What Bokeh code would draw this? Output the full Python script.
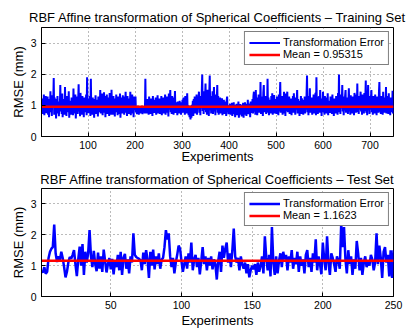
from bokeh.plotting import figure
from bokeh.layouts import column
from bokeh.models import Range1d, FixedTicker, Legend, LegendItem
from bokeh.embed import file_html
from bokeh.resources import INLINE

train_title = "RBF Affine transformation of Spherical Coefficients – Training Set"
test_title = "RBF Affine transformation of Spherical Coefficients – Test Set"
x_label = "Experiments"
y_label = "RMSE (mm)"
series_label = "Transformation Error"
train_mean = 0.95315
test_mean = 1.1623
train_xticks = [100, 200, 300, 400, 500, 600, 700]
test_xticks = [50, 100, 150, 200, 250]
y_ticks = [0, 1, 2, 3]

train_rmse = [
    0.95, 1.22, 0.72, 1.15, 0.80, 1.35, 0.68, 1.05, 0.90, 1.30, 0.75, 1.10, 0.85, 1.28, 0.70, 1.20, 0.62, 1.02, 0.88, 1.45, 0.78, 1.15, 0.66, 1.32, 0.92,
    1.10, 1.88, 0.70, 1.25, 0.82, 1.05, 0.58, 1.20, 0.90, 1.30, 0.74, 1.12, 0.65, 1.05, 0.86, 1.65, 0.80, 1.25, 0.72, 1.38, 0.62, 1.10, 0.95, 1.20, 0.70,
    1.59, 0.84, 1.18, 0.66, 1.30, 0.78, 1.08, 0.92, 1.45, 0.60, 1.15, 0.88, 1.02, 0.70, 1.25, 0.82, 1.10, 0.68, 1.54, 0.90, 1.20, 0.74, 1.35, 0.58, 1.05,
    0.86, 1.28, 0.72, 1.12, 1.68, 0.80, 1.20, 0.65, 1.40, 0.90, 1.08, 0.70, 1.30, 0.84, 1.15, 0.62, 1.25, 0.78, 1.05, 0.92, 1.35, 0.68, 1.90, 0.85, 1.22,
    0.75, 1.10, 0.88, 1.30, 0.66, 1.85, 0.80, 1.15, 0.70, 1.25, 0.92, 1.05, 0.60, 1.20, 0.82, 1.32, 0.72, 1.08, 0.86, 1.18, 0.64, 1.28, 0.78, 1.12, 0.90,
    1.49, 0.74, 1.20, 0.85, 1.38, 0.68, 1.10, 0.90, 1.42, 0.76, 1.30, 0.62, 1.15, 0.88, 1.35, 0.72, 1.05, 0.80, 1.25, 0.66, 1.40, 0.84, 1.12, 0.70, 1.50,
    0.82, 1.18, 0.70, 1.30, 0.88, 1.05, 0.64, 1.22, 0.78, 1.35, 0.90, 1.10, 0.68, 1.28, 0.84, 1.15, 0.72, 1.38, 0.60, 1.08, 0.86, 1.25, 0.74, 1.32, 0.80,
    1.12, 0.70, 1.28, 0.92, 1.44, 0.76, 1.15, 0.66, 1.30, 0.84, 1.05, 0.72, 1.22, 0.88, 1.44, 0.68, 1.18, 0.80, 1.35, 0.74, 1.10, 0.62, 1.28, 0.86, 1.05,
    1.28, 0.78, 0.95, 0.72, 0.98, 0.80, 0.90, 0.70, 0.96, 0.76, 0.88, 0.74, 0.92, 0.82, 0.86, 0.72, 0.95, 0.78, 0.90, 0.80, 0.75, 1.85, 0.82, 1.10, 0.74,
    1.20, 0.80, 1.15, 0.70, 1.28, 0.86, 1.05, 0.72, 1.22, 0.90, 1.10, 0.66, 1.30, 0.82, 1.18, 0.76, 1.08, 0.88, 1.25, 0.70, 1.12, 0.84, 1.32, 0.74, 1.05,
    0.90, 1.22, 0.72, 1.15, 0.84, 1.30, 0.68, 1.10, 0.80, 1.25, 0.74, 1.05, 0.88, 1.35, 0.70, 1.18, 0.82, 1.28, 0.76, 1.12, 0.64, 1.38, 0.86, 1.08, 1.49,
    0.78, 1.20, 0.72, 1.30, 0.85, 1.15, 0.70, 1.25, 0.92, 1.46, 0.76, 1.10, 0.82, 1.08, 0.68, 1.12, 0.86, 1.05, 0.74, 1.15, 0.80, 1.02, 0.70, 1.10, 0.88,
    1.18, 0.76, 1.25, 0.84, 1.12, 0.70, 1.30, 0.90, 1.05, 0.74, 1.39, 0.82, 1.00, 0.68, 0.95, 0.62, 0.88, 0.55, 0.92, 0.60, 1.02, 0.72, 1.15, 0.66, 1.20,
    0.80, 1.28, 0.74, 1.10, 0.86, 1.35, 0.70, 1.22, 0.88, 1.15, 1.44, 0.76, 1.30, 0.68, 1.25, 0.90, 1.40, 1.99, 0.82, 1.30, 0.72, 1.45, 0.85, 1.20, 1.70,
    0.78, 1.35, 0.70, 1.50, 0.88, 1.25, 0.66, 1.40, 1.96, 0.84, 1.30, 0.74, 1.22, 0.90, 1.45, 0.72, 1.15, 1.59, 0.80, 1.28, 0.68, 1.35, 0.86, 1.20, 1.65,
    0.76, 1.30, 0.70, 1.15, 0.88, 1.25, 0.74, 1.10, 0.82, 1.23, 0.68, 1.05, 0.90, 1.18, 0.72, 1.12, 0.80, 1.08, 0.66, 1.15, 1.28, 0.78, 1.00, 0.72, 0.95,
    0.80, 1.05, 0.70, 0.98, 0.76, 1.08, 0.66, 0.95, 0.82, 1.10, 0.72, 1.02, 0.62, 0.92, 0.78, 1.05, 0.68, 0.98, 0.74, 1.12, 0.60, 0.96, 0.80, 1.04, 0.70,
    0.94, 0.64, 1.02, 0.76, 1.08, 0.60, 0.98, 0.82, 1.10, 0.70, 1.00, 0.66, 1.05, 0.78, 1.18, 0.72, 0.96, 0.84, 1.06, 0.62, 1.12, 0.76, 1.00, 0.88, 1.20,
    0.74, 1.30, 1.44, 0.80, 1.15, 0.70, 1.49, 0.86, 1.25, 0.68, 1.10, 0.90, 1.35, 0.76, 1.20, 0.82, 1.75, 0.72, 1.28, 0.88, 1.15, 0.66, 1.40, 1.65, 0.78,
    1.22, 0.84, 1.30, 0.72, 1.12, 0.90, 1.85, 0.76, 1.25, 0.68, 1.18, 0.86, 1.08, 0.74, 1.30, 0.80, 1.39, 0.70, 1.15, 0.88, 1.33, 0.74, 1.05, 0.82, 1.20,
    0.72, 1.28, 0.86, 1.10, 0.68, 1.35, 0.80, 1.22, 1.75, 0.76, 1.15, 0.90, 1.30, 0.70, 1.20, 0.84, 1.44, 0.74, 1.12, 0.66, 1.38, 0.82, 1.25, 1.44, 0.78,
    1.10, 0.88, 1.28, 0.72, 1.15, 0.84, 1.22, 0.68, 1.05, 0.90, 1.30, 0.76, 1.39, 0.80, 1.18, 0.70, 1.25, 0.86, 1.12, 1.49, 0.74, 1.20, 0.82, 1.08, 0.66,
    1.15, 0.84, 1.30, 0.72, 1.23, 0.88, 1.10, 0.70, 1.18, 0.80, 1.28, 0.74, 1.05, 0.86, 1.35, 1.96, 0.78, 1.20, 0.68, 1.30, 0.90, 1.55, 0.76, 1.15, 0.84,
    1.25, 0.70, 1.12, 0.88, 1.35, 0.74, 1.20, 0.82, 1.40, 0.68, 1.90, 0.80, 1.28, 0.72, 1.15, 0.86, 1.30, 0.76, 1.49, 0.90, 1.10, 0.66, 1.22, 0.84, 1.44,
    0.78, 1.18, 0.70, 1.30, 0.86, 1.12, 0.74, 1.25, 0.82, 1.39, 0.68, 1.15, 0.90, 1.05, 0.76, 1.28, 0.80, 1.20, 0.72, 1.35, 0.84, 1.10, 0.66, 1.22, 0.88,
    1.15, 0.74, 1.30, 0.82, 1.20, 0.70, 1.40, 0.86, 1.99, 0.78, 1.25, 0.72, 1.35, 0.90, 1.18, 1.65, 0.80, 1.28, 0.68, 1.12, 0.84, 1.30, 1.49, 0.76, 1.15,
    0.88, 1.25, 0.72, 1.10, 1.55, 0.80, 1.20, 0.70, 1.32, 0.86, 1.15, 0.74, 1.28, 0.82, 1.05, 0.68, 1.40, 0.90, 1.22, 0.76, 1.35, 0.84, 1.70, 0.78, 1.18,
    0.72, 1.30, 0.86, 1.12, 1.44, 0.80, 1.25, 0.70, 1.35, 0.88, 1.15, 0.74, 1.40, 0.82, 1.20, 1.80, 0.76, 1.28, 0.68, 1.10, 1.65, 0.84, 1.30, 0.72, 1.18,
    0.86, 1.25, 1.49, 0.78, 1.15, 0.70, 1.30, 0.88, 1.20, 0.74, 1.35, 0.82, 1.10, 0.68, 1.28, 0.90, 1.22, 0.76, 1.40, 1.75, 0.80, 1.18, 0.72, 1.30, 0.84,
    1.12, 0.70, 1.44, 0.86, 1.25, 0.76, 1.20, 0.82, 1.59, 0.74, 1.15, 0.88, 1.30, 0.72, 1.39, 0.80, 1.18, 0.68, 1.25, 0.86, 1.10, 0.78, 1.47, 0.74, 0.82,
]

test_rmse = [
    0.82, 0.78, 0.95, 0.74, 0.80, 1.25, 1.45, 1.55, 1.60, 2.33,
    1.40, 1.12, 1.30, 1.18, 1.45, 1.25, 0.95, 0.62, 0.80, 1.10,
    1.28, 1.22, 1.35, 1.50, 1.05, 0.66, 1.20, 1.62, 1.00, 1.70,
    0.70, 1.45, 1.10, 1.40, 2.15, 1.30, 0.95, 1.48, 1.05, 0.82,
    1.42, 0.90, 1.30, 0.80, 1.52, 1.15, 0.78, 1.05, 1.25, 0.88,
    1.22, 0.72, 1.15, 0.95, 1.35, 0.85, 1.45, 0.70, 1.25, 1.38,
    0.90, 1.20, 0.75, 1.30, 1.10, 2.05, 1.35, 1.28, 1.25, 1.22,
    1.18, 0.85, 1.42, 1.05, 1.50, 1.20, 0.60, 1.45, 1.00, 1.52,
    0.88, 1.30, 1.05, 1.40, 0.90, 1.20, 1.25, 1.60, 2.15, 1.85,
    2.05, 1.30, 0.95, 1.25, 0.75, 1.10, 1.35, 1.65, 1.55, 1.15,
    0.80, 1.05, 1.30, 0.90, 1.40, 1.10, 1.75, 0.85, 1.20, 1.35,
    0.95, 1.25, 0.72, 1.15, 1.60, 1.05, 1.30, 0.85, 1.25, 1.00,
    1.30, 0.88, 1.20, 1.05, 0.55, 1.15, 1.45, 0.80, 1.65, 1.25,
    1.55, 1.75, 1.10, 1.40, 0.95, 1.50, 2.20, 1.30, 1.10, 1.25,
    0.85, 1.30, 1.05, 0.90, 1.10, 0.75, 1.05, 0.62, 0.85, 1.00,
    0.88, 1.05, 0.70, 1.10, 0.80, 1.00, 1.30, 0.75, 1.95, 1.25,
    0.85, 1.35, 0.65, 2.25, 1.10, 0.70, 1.30, 0.75, 1.15, 1.40,
    0.95, 1.45, 1.20, 1.35, 0.85, 1.30, 1.10, 1.50, 0.90, 1.25,
    1.05, 1.45, 0.80, 1.30, 1.00, 1.20, 0.75, 1.35, 1.50, 0.95,
    1.25, 0.80, 1.40, 1.10, 1.85, 0.85, 1.30, 1.05, 0.72, 1.75,
    1.20, 0.85, 1.95, 1.10, 0.70, 1.40, 1.25, 1.05, 0.80, 1.30,
    1.15, 0.90, 2.35, 1.60, 2.25, 1.20, 0.75, 1.50, 1.05, 1.30,
    0.70, 1.20, 0.90, 1.80, 1.40, 0.85, 1.25, 0.70, 1.10, 1.30,
    0.95, 1.15, 1.00, 1.35, 1.20, 0.85, 1.10, 2.05, 1.05, 1.65,
    1.25, 0.60, 1.45, 1.60, 1.10, 1.35, 0.65, 1.50, 0.60, 1.50,
]

FONT = "Liberation Sans"


def make_panel(rmse, mean, title, xticks, height, border_top, border_bottom,
               line_w, tick_standoff, label_standoff, title_standoff):
    n = len(rmse)
    xs = list(range(1, n + 1))
    p = figure(width=408, height=height, output_backend="svg", toolbar_location=None,
               x_range=Range1d(xs[0], xs[-1]), y_range=Range1d(0, 3.5),
               min_border_left=41, min_border_right=15,
               min_border_top=border_top, min_border_bottom=border_bottom,
               background_fill_color="white", border_fill_color="white")
    p.title.text = title
    p.title.align = "center"
    p.title.text_font = FONT
    p.title.text_font_size = "13px"
    p.title.text_font_style = "normal"
    p.title.text_color = "black"
    p.title.standoff = title_standoff

    p.outline_line_color = "black"
    p.outline_line_width = 1
    p.outline_line_alpha = 1

    p.xaxis.ticker = FixedTicker(ticks=xticks)
    p.yaxis.ticker = FixedTicker(ticks=y_ticks)
    for ax in (p.xaxis, p.yaxis):
        ax.axis_line_color = "black"
        ax.major_tick_line_color = "black"
        ax.major_tick_in = 4
        ax.major_tick_out = 0
        ax.minor_tick_line_color = None
        ax.major_label_text_font = FONT
        ax.major_label_text_font_size = "10.5px"
        ax.major_label_text_color = "black"
        ax.axis_label_text_font = FONT
        ax.axis_label_text_font_size = "13px"
        ax.axis_label_text_font_style = "normal"
        ax.axis_label_text_color = "black"
    p.xaxis.major_label_standoff = tick_standoff
    p.xaxis.axis_label_standoff = label_standoff
    p.yaxis.major_label_standoff = 5
    p.yaxis.axis_label_standoff = 2
    p.xaxis.axis_label = x_label
    p.yaxis.axis_label = y_label

    for g in (p.xgrid, p.ygrid):
        g.grid_line_color = "#555555"
        g.grid_line_dash = "1 3"
        g.grid_line_alpha = 0.8
        g.grid_line_width = 1

    r_err = p.line(xs, rmse, line_color="#0000FF", line_width=line_w)
    r_mean = p.line([xs[0], xs[-1]], [mean, mean], line_color="#FF0000", line_width=2.5)

    legend = Legend(items=[LegendItem(label=series_label, renderers=[r_err]),
                           LegendItem(label=f"Mean = {mean}", renderers=[r_mean])],
                    location="top_right")
    legend.margin = 4
    legend.padding = 4
    legend.spacing = 0
    legend.label_standoff = 3
    legend.glyph_width = 31
    legend.glyph_height = 11
    legend.label_height = 11
    legend.label_text_font = FONT
    legend.label_text_font_size = "11px"
    legend.label_text_color = "black"
    legend.border_line_color = "black"
    legend.border_line_width = 1.5
    legend.background_fill_color = "white"
    legend.background_fill_alpha = 1
    p.add_layout(legend)
    return p


p1 = make_panel(train_rmse, train_mean, train_title, train_xticks, 166, 27, 30, 2, 4, -3, 5)
p2 = make_panel(test_rmse, test_mean, test_title, test_xticks, 165, 22, 35, 2.5, 4, 1, 3)

layout = column(p1, p2, spacing=0)
open("out.html", "w").write(file_html(layout, INLINE))
